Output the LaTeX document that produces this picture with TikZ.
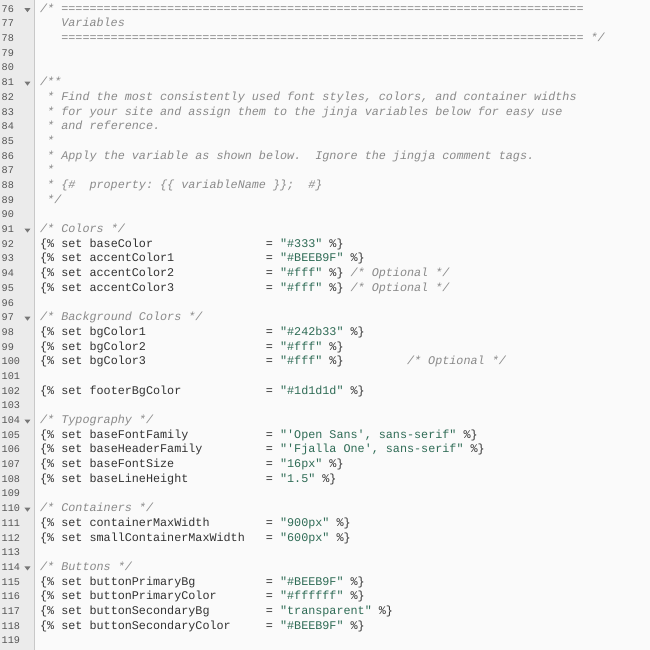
\documentclass[tikz,border=0pt]{standalone}
\usepackage{fontspec}
\setmonofont{Liberation Mono}
\usepackage{xcolor}
\definecolor{paper}{HTML}{FAFAFA}
\definecolor{gutter}{HTML}{EBEBEB}
\definecolor{gutterline}{HTML}{C8C8C8}
\definecolor{numc}{HTML}{555555}
\definecolor{codec}{HTML}{333333}
\definecolor{cmtc}{HTML}{8A8A8A}
\definecolor{strc}{HTML}{2E6B55}
\tikzset{
  code/.style={anchor=base west, inner sep=0pt, font=\ttfamily\fontsize{11.77}{14}\selectfont, text=codec},
  cmt/.style={code, font=\ttfamily\itshape\fontsize{11.77}{14}\selectfont, text=cmtc},
  lnum/.style={anchor=base west, inner sep=0pt, font=\ttfamily\fontsize{10.2}{14}\selectfont, text=numc},
  fold/.style={fill=numc!80, draw=none}
}
\newcommand{\cl}[4]{\node[#3] (t#1c#2) at ({(40+#2*7.06)*1pt},{(638-(#1-76)*14.7)*1pt}) {#4};}
\newcommand{\kv}[3]{\cl{#1}{0}{code}{\{\% set #2}\cl{#1}{32}{code}{= {\color{strc}"#3"} \%\}}}
\newcommand{\tenq}{==========}
\newcommand{\eqrow}{\tenq\tenq\tenq\tenq\tenq\tenq\tenq====}
\begin{document}
\begin{tikzpicture}[x=1pt,y=1pt]
    % page and gutter
    \fill[paper] (0,0) rectangle (650,650);
    \fill[gutter] (0,0) rectangle (34,650);
    \draw[gutterline] (34,0) -- (34,650);
    \useasboundingbox (0,0) rectangle (650,650);

    % line numbers
    \foreach \n in {76,...,119}
        \node[lnum] (n\n) at (1.5,{638-(\n-76)*14.7}) {\n};
    \foreach \n in {76,81,91,97,104,110,114}
        \fill[fold] (24.5,{642-(\n-76)*14.7}) -- ++(6,0) -- ++(-3,-4) -- cycle;

    % header comment
    \cl{76}{0}{cmt}{/* \eqrow}
    \cl{77}{3}{cmt}{Variables}
    \cl{78}{3}{cmt}{\eqrow{} */}

    % doc comment
    \cl{81}{0}{cmt}{/**}
    \cl{82}{1}{cmt}{* Find the most consistently used font styles, colors, and container widths}
    \cl{83}{1}{cmt}{* for your site and assign them to the jinja variables below for easy use}
    \cl{84}{1}{cmt}{* and reference.}
    \cl{85}{1}{cmt}{*}
    \cl{86}{1}{cmt}{* Apply the variable as shown below.}
    \cl{86}{39}{cmt}{Ignore the jingja comment tags.}
    \cl{87}{1}{cmt}{*}
    \cl{88}{1}{cmt}{* \{\#}
    \cl{88}{7}{cmt}{property: \{\{ variableName \}\};}
    \cl{88}{38}{cmt}{\#\}}
    \cl{89}{1}{cmt}{*/}

    % colors
    \cl{91}{0}{cmt}{/* Colors */}
    \kv{92}{baseColor}{\#333}
    \kv{93}{accentColor1}{\#BEEB9F}
    \kv{94}{accentColor2}{\#fff}
    \cl{94}{44}{cmt}{/* Optional */}
    \kv{95}{accentColor3}{\#fff}
    \cl{95}{44}{cmt}{/* Optional */}

    % background colors
    \cl{97}{0}{cmt}{/* Background Colors */}
    \kv{98}{bgColor1}{\#242b33}
    \kv{99}{bgColor2}{\#fff}
    \kv{100}{bgColor3}{\#fff}
    \cl{100}{52}{cmt}{/* Optional */}
    \kv{102}{footerBgColor}{\#1d1d1d}

    % typography
    \cl{104}{0}{cmt}{/* Typography */}
    \kv{105}{baseFontFamily}{'Open Sans', sans-serif}
    \kv{106}{baseHeaderFamily}{'Fjalla One', sans-serif}
    \kv{107}{baseFontSize}{16px}
    \kv{108}{baseLineHeight}{1.5}

    % containers
    \cl{110}{0}{cmt}{/* Containers */}
    \kv{111}{containerMaxWidth}{900px}
    \kv{112}{smallContainerMaxWidth}{600px}

    % buttons
    \cl{114}{0}{cmt}{/* Buttons */}
    \kv{115}{buttonPrimaryBg}{\#BEEB9F}
    \kv{116}{buttonPrimaryColor}{\#ffffff}
    \kv{117}{buttonSecondaryBg}{transparent}
    \kv{118}{buttonSecondaryColor}{\#BEEB9F}
\end{tikzpicture}
\end{document}
